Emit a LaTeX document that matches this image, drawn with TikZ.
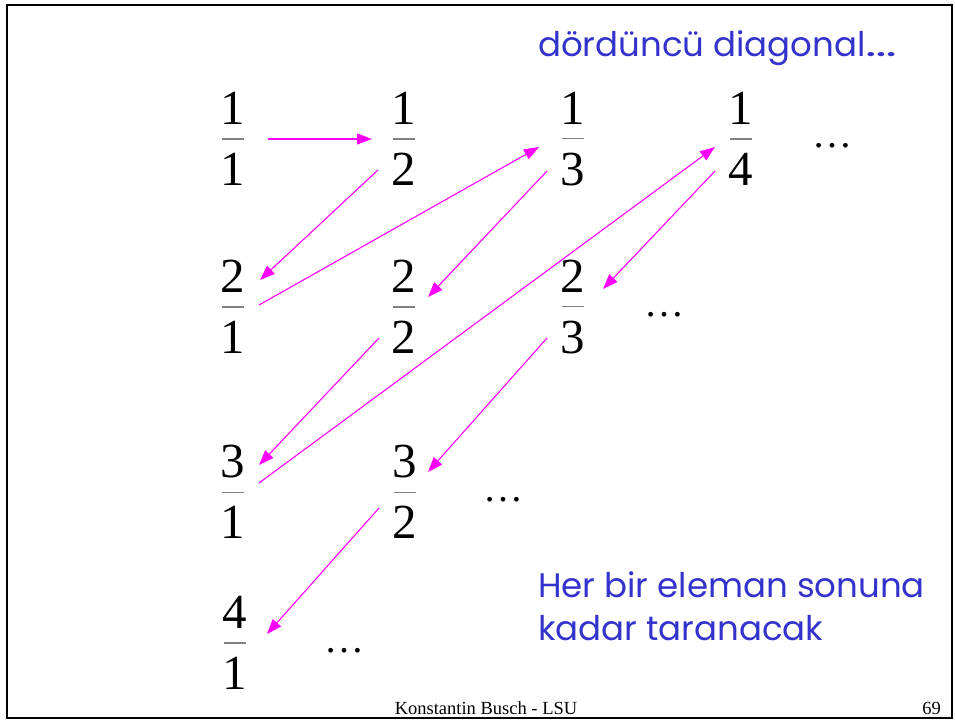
\documentclass[tikz,border=0pt]{standalone}
\usepackage{fontspec}
\setmainfont{Liberation Serif}
\newfontfamily\comicfont{Poppins}
\usetikzlibrary{arrows.meta,calc}
\definecolor{slideblue}{HTML}{3333CC}
\definecolor{arrowmag}{HTML}{FF00FF}
\newcommand\myfrac[2]{\vbox{\offinterlineskip\hbox to 26pt{\hss #1\hss}\kern 13.5pt\hbox to 26pt{\hss\textcolor{gray}{\rule{22pt}{1.2pt}}\hss}\kern 13.5pt\hbox to 26pt{\hss #2\hss}}}
\tikzset{
  fracnode/.style={inner sep=0pt, font=\fontsize{49pt}{50pt}\selectfont},
  dotsnode/.style={inner sep=0pt, anchor=base, font=\fontsize{40pt}{42pt}\selectfont},
  walk/.style={draw=arrowmag, line width=1.1pt, -{Triangle[length=15pt,width=11pt]}},
  bluetext/.style={inner sep=0pt, anchor=base west, text=slideblue, font=\comicfont\fontsize{34pt}{40pt}\selectfont},
  footer/.style={inner sep=0pt, anchor=base, font=\fontsize{18.5pt}{19pt}\selectfont}
}
\begin{document}
\begin{tikzpicture}[x=1pt,y=-1pt]
\useasboundingbox (0,0) rectangle (955,722);
\draw[line width=2.5pt] (7,5) rectangle (952,718);
% fractions
\node[fracnode] (f11) at (233,139) {\myfrac{1}{1}};
\node[fracnode] (f12) at (404,139) {\myfrac{1}{2}};
\node[fracnode] (f13) at (573,139) {\myfrac{1}{3}};
\node[fracnode] (f14) at (741,139) {\myfrac{1}{4}};
\node[fracnode] (f21) at (233,307) {\myfrac{2}{1}};
\node[fracnode] (f22) at (404,307) {\myfrac{2}{2}};
\node[fracnode] (f23) at (573,307) {\myfrac{2}{3}};
\node[fracnode] (f31) at (233,492) {\myfrac{3}{1}};
\node[fracnode] (f32) at (405,492) {\myfrac{3}{2}};
\node[fracnode] (f41) at (235,643) {\myfrac{4}{1}};
% dots
\node[dotsnode] (d1) at (832,148) {…};
\node[dotsnode] (d2) at (664,316) {…};
\node[dotsnode] (d3) at (503,501) {…};
\node[dotsnode] (d4) at (344,652) {…};
% arrows
\draw[walk] ($(f11)+(35,0)$) -- ($(f12)+(-32,0)$);
\draw[walk] ($(f12)+(-26,31)$) -- ($(f21)+(27,-27)$);
\draw[walk] ($(f21)+(26,-2)$) -- ($(f13)+(-34,8)$);
\draw[walk] ($(f13)+(-26,32)$) -- ($(f22)+(24,-10)$);
\draw[walk] ($(f22)+(-25,31)$) -- ($(f31)+(26,-27)$);
\draw[walk] ($(f31)+(26,-9)$) -- ($(f14)+(-26,8)$);
\draw[walk] ($(f14)+(-26,32)$) -- ($(f23)+(30,-18)$);
\draw[walk] ($(f23)+(-26,31)$) -- ($(f32)+(23,-20)$);
\draw[walk] ($(f32)+(-26,16)$) -- ($(f41)+(32,-9)$);
% texts
\node[bluetext] (title) at (538,57) {dördüncü diagonal\scalebox{1.6}[1]{…}};
\node[bluetext] (note1) at (538,597) {Her bir eleman sonuna};
\node[bluetext] (note2) at (538,640) {kadar taranacak};
\node[footer] (foot) at (486,714) {Konstantin Busch - LSU};
\node[footer, anchor=base east] (page) at (941,714) {69};
\end{tikzpicture}
\end{document}
